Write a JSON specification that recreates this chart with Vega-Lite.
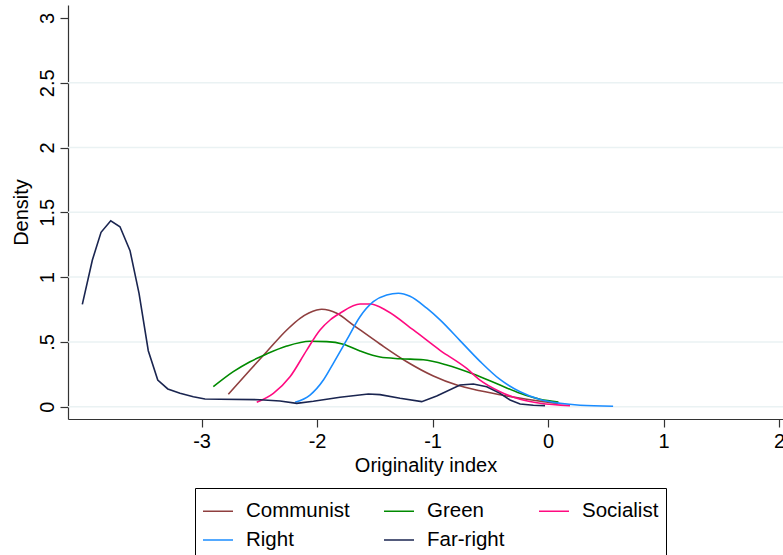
{
  "$schema": "https://vega.github.io/schema/vega-lite/v6.json",
  "width": 715,
  "height": 414,
  "autosize": {"type": "none"},
  "padding": {"left": 68, "top": 5, "right": 0, "bottom": 136},
  "background": "white",
  "config": {
    "view": {"stroke": null},
    "font": "Liberation Sans",
    "axis": {
      "labelFont": "Liberation Sans",
      "titleFont": "Liberation Sans",
      "labelFontSize": 20,
      "titleFontSize": 20,
      "titleFontWeight": "normal",
      "labelColor": "#000000",
      "titleColor": "#000000",
      "domainColor": "#333333",
      "tickColor": "#333333",
      "tickSize": 8,
      "domainWidth": 1.2,
      "tickWidth": 1.2,
      "grid": false
    }
  },
  "datasets": {
    "grid": [
      {"g": 0}, {"g": 0.5}, {"g": 1}, {"g": 1.5}, {"g": 2}, {"g": 2.5}
    ],
    "smooth": [
      {"party": "Communist", "x": -2.768, "y": 0.096},
      {"party": "Communist", "x": -2.58, "y": 0.283},
      {"party": "Communist", "x": -2.436, "y": 0.424},
      {"party": "Communist", "x": -2.262, "y": 0.592},
      {"party": "Communist", "x": -2.147, "y": 0.682},
      {"party": "Communist", "x": -2.003, "y": 0.746},
      {"party": "Communist", "x": -1.959, "y": 0.752},
      {"party": "Communist", "x": -1.829, "y": 0.721},
      {"party": "Communist", "x": -1.686, "y": 0.63},
      {"party": "Communist", "x": -1.455, "y": 0.484},
      {"party": "Communist", "x": -1.223, "y": 0.347},
      {"party": "Communist", "x": -0.993, "y": 0.237},
      {"party": "Communist", "x": -0.79, "y": 0.167},
      {"party": "Communist", "x": -0.589, "y": 0.123},
      {"party": "Communist", "x": -0.358, "y": 0.083},
      {"party": "Communist", "x": -0.184, "y": 0.057},
      {"party": "Communist", "x": -0.041, "y": 0.039},
      {"party": "Communist", "x": 0.087, "y": 0.026},
      {"party": "Green", "x": -2.898, "y": 0.154},
      {"party": "Green", "x": -2.725, "y": 0.27},
      {"party": "Green", "x": -2.58, "y": 0.347},
      {"party": "Green", "x": -2.436, "y": 0.407},
      {"party": "Green", "x": -2.262, "y": 0.468},
      {"party": "Green", "x": -2.061, "y": 0.505},
      {"party": "Green", "x": -1.916, "y": 0.502},
      {"party": "Green", "x": -1.772, "y": 0.482},
      {"party": "Green", "x": -1.628, "y": 0.43},
      {"party": "Green", "x": -1.455, "y": 0.383},
      {"party": "Green", "x": -1.281, "y": 0.37},
      {"party": "Green", "x": -1.08, "y": 0.362},
      {"party": "Green", "x": -0.877, "y": 0.322},
      {"party": "Green", "x": -0.647, "y": 0.252},
      {"party": "Green", "x": -0.416, "y": 0.167},
      {"party": "Green", "x": -0.242, "y": 0.103},
      {"party": "Green", "x": -0.069, "y": 0.057},
      {"party": "Green", "x": 0.09, "y": 0.036},
      {"party": "Socialist", "x": -2.522, "y": 0.034},
      {"party": "Socialist", "x": -2.378, "y": 0.103},
      {"party": "Socialist", "x": -2.234, "y": 0.231},
      {"party": "Socialist", "x": -2.089, "y": 0.437},
      {"party": "Socialist", "x": -1.974, "y": 0.592},
      {"party": "Socialist", "x": -1.887, "y": 0.669},
      {"party": "Socialist", "x": -1.801, "y": 0.721},
      {"party": "Socialist", "x": -1.628, "y": 0.792},
      {"party": "Socialist", "x": -1.541, "y": 0.792},
      {"party": "Socialist", "x": -1.397, "y": 0.741},
      {"party": "Socialist", "x": -1.166, "y": 0.592},
      {"party": "Socialist", "x": -0.935, "y": 0.435},
      {"party": "Socialist", "x": -0.704, "y": 0.295},
      {"party": "Socialist", "x": -0.589, "y": 0.205},
      {"party": "Socialist", "x": -0.416, "y": 0.116},
      {"party": "Socialist", "x": -0.242, "y": 0.057},
      {"party": "Socialist", "x": -0.069, "y": 0.026},
      {"party": "Socialist", "x": 0.19, "y": 0.008},
      {"party": "Right", "x": -2.19, "y": 0.034},
      {"party": "Right", "x": -2.061, "y": 0.09},
      {"party": "Right", "x": -1.945, "y": 0.206},
      {"party": "Right", "x": -1.859, "y": 0.335},
      {"party": "Right", "x": -1.743, "y": 0.515},
      {"party": "Right", "x": -1.628, "y": 0.694},
      {"party": "Right", "x": -1.513, "y": 0.81},
      {"party": "Right", "x": -1.397, "y": 0.862},
      {"party": "Right", "x": -1.296, "y": 0.875},
      {"party": "Right", "x": -1.195, "y": 0.852},
      {"party": "Right", "x": -1.05, "y": 0.76},
      {"party": "Right", "x": -0.935, "y": 0.67},
      {"party": "Right", "x": -0.762, "y": 0.51},
      {"party": "Right", "x": -0.589, "y": 0.35},
      {"party": "Right", "x": -0.416, "y": 0.21},
      {"party": "Right", "x": -0.242, "y": 0.115},
      {"party": "Right", "x": -0.069, "y": 0.055},
      {"party": "Right", "x": 0.104, "y": 0.026},
      {"party": "Right", "x": 0.277, "y": 0.011},
      {"party": "Right", "x": 0.563, "y": 0.003}
    ],
    "farright": [
      {"party": "Far-right", "x": -4.032, "y": 0.79},
      {"party": "Far-right", "x": -3.945, "y": 1.132},
      {"party": "Far-right", "x": -3.87, "y": 1.346},
      {"party": "Far-right", "x": -3.786, "y": 1.435},
      {"party": "Far-right", "x": -3.706, "y": 1.389},
      {"party": "Far-right", "x": -3.619, "y": 1.204},
      {"party": "Far-right", "x": -3.541, "y": 0.875},
      {"party": "Far-right", "x": -3.461, "y": 0.432},
      {"party": "Far-right", "x": -3.379, "y": 0.206},
      {"party": "Far-right", "x": -3.292, "y": 0.137},
      {"party": "Far-right", "x": -3.186, "y": 0.103},
      {"party": "Far-right", "x": -3.071, "y": 0.077},
      {"party": "Far-right", "x": -2.97, "y": 0.059},
      {"party": "Far-right", "x": -2.84, "y": 0.057},
      {"party": "Far-right", "x": -2.494, "y": 0.054},
      {"party": "Far-right", "x": -2.32, "y": 0.044},
      {"party": "Far-right", "x": -2.176, "y": 0.026},
      {"party": "Far-right", "x": -2.032, "y": 0.042},
      {"party": "Far-right", "x": -1.801, "y": 0.073},
      {"party": "Far-right", "x": -1.556, "y": 0.098},
      {"party": "Far-right", "x": -1.455, "y": 0.093},
      {"party": "Far-right", "x": -1.281, "y": 0.065},
      {"party": "Far-right", "x": -1.094, "y": 0.039},
      {"party": "Far-right", "x": -0.964, "y": 0.083},
      {"party": "Far-right", "x": -0.762, "y": 0.167},
      {"party": "Far-right", "x": -0.647, "y": 0.175},
      {"party": "Far-right", "x": -0.531, "y": 0.154},
      {"party": "Far-right", "x": -0.416, "y": 0.103},
      {"party": "Far-right", "x": -0.329, "y": 0.052},
      {"party": "Far-right", "x": -0.242, "y": 0.021},
      {"party": "Far-right", "x": -0.127, "y": 0.011},
      {"party": "Far-right", "x": -0.026, "y": 0.008}
    ]
  },
  "layer": [
    {
      "data": {"name": "grid"},
      "mark": {"type": "rule", "color": "#eaf2f3", "strokeWidth": 1.5},
      "encoding": {
        "y": {
          "field": "g", "type": "quantitative",
          "scale": {"domain": [-0.095, 3.1], "nice": false, "zero": false},
          "axis": {
            "title": "Density",
            "values": [0, 0.5, 1, 1.5, 2, 2.5, 3],
            "labelExpr": "datum.value == 0.5 ? '.5' : toString(datum.value)",
            "labelAngle": -90,
            "labelAlign": "center",
            "labelBaseline": "bottom",
            "labelPadding": 3,
            "titlePadding": 6,
            "labelFlush": false,
            "labelOverlap": false
          }
        }
      }
    },
    {
      "data": {"name": "smooth"},
      "mark": {"type": "line", "interpolate": "monotone", "strokeWidth": 1.6},
      "encoding": {
        "x": {
          "field": "x", "type": "quantitative",
          "scale": {"domain": [-4.156, 2.034], "nice": false, "zero": false},
          "axis": {
            "title": "Originality index",
            "values": [-3, -2, -1, 0, 1, 2],
            "labelExpr": "toString(datum.value)",
            "labelPadding": 4,
            "titlePadding": 4,
            "labelFlush": false,
            "labelOverlap": false
          }
        },
        "y": {"field": "y", "type": "quantitative"},
        "color": {
          "field": "party", "type": "nominal",
          "scale": {
            "domain": ["Communist", "Green", "Socialist", "Right", "Far-right"],
            "range": ["#8f3f3f", "#008a00", "#ff0a80", "#1a8cff", "#1a2550"]
          },
          "legend": {
            "title": null,
            "orient": "none",
            "legendX": 127,
            "legendY": 483,
            "columns": 3,
            "direction": "horizontal",
            "symbolType": "stroke",
            "symbolSize": 900,
            "symbolStrokeWidth": 1.5,
            "labelFont": "Liberation Sans",
            "labelFontSize": 20.5,
            "labelColor": "#000000",
            "labelOffset": 12,
            "columnPadding": 31,
            "rowPadding": 2,
            "padding": 7,
            "strokeColor": "#000000",
            "fillColor": "#ffffff",
            "cornerRadius": 0,
            "labelLimit": 300
          }
        }
      }
    },
    {
      "data": {"name": "farright"},
      "mark": {"type": "line", "interpolate": "linear", "strokeWidth": 1.6},
      "encoding": {
        "x": {"field": "x", "type": "quantitative"},
        "y": {"field": "y", "type": "quantitative"},
        "color": {"field": "party", "type": "nominal"}
      }
    }
  ]
}
